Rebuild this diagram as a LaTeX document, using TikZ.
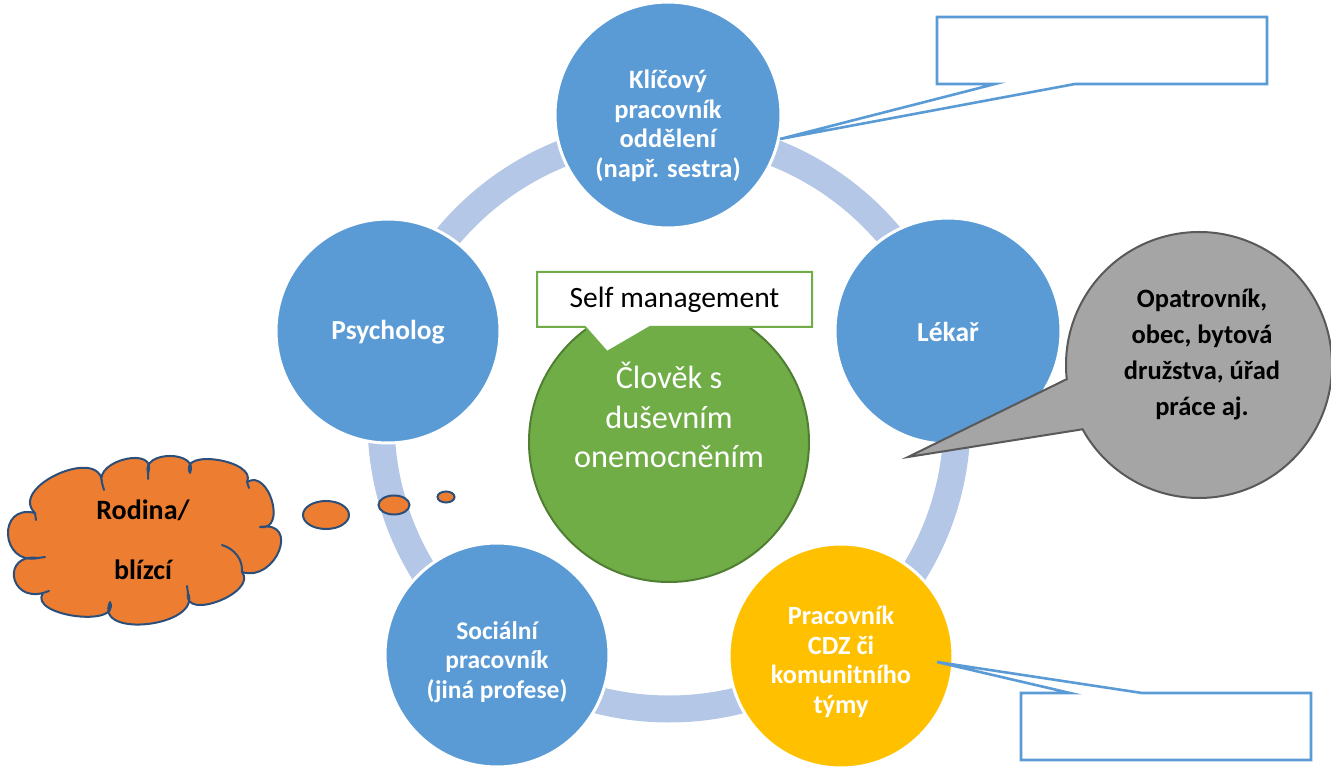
\documentclass[tikz,border=0pt]{standalone}
\usepackage{fontspec}
\setmainfont{Carlito}
\usetikzlibrary{shapes.geometric,calc}
\definecolor{roleblue}{HTML}{5B9BD5}
\definecolor{ringblue}{HTML}{B4C7E7}
\definecolor{clientgreen}{HTML}{70AD47}
\definecolor{clientgreendark}{HTML}{507E32}
\definecolor{cdzyellow}{HTML}{FFC000}
\definecolor{familyorange}{HTML}{ED7D31}
\definecolor{familyedge}{HTML}{2B4F7A}
\definecolor{othergray}{HTML}{A5A5A5}
\definecolor{othergrayedge}{HTML}{595959}
% one bulge of the cloud outline: from #1 through the peak #2 to #3
\newcommand\cpuff[3]{.. controls ($0.5333*(#1)-0.8667*(#3)+1.3333*(#2)$)
  and ($-0.8667*(#1)+0.5333*(#3)+1.3333*(#2)$) .. (#3)}
\begin{document}
\begin{tikzpicture}[x=1pt,y=-1pt,
  role/.style={circle,fill=#1,draw=white,line width=3pt,inner sep=0pt},
  roletext/.style={text=white,align=center,font=\fontsize{#1}{29.5}\selectfont\bfseries},
  calloutline/.style={draw=roleblue,line width=2.6pt,fill=white,line join=miter},
  puff/.style={ellipse,fill=familyorange,draw=familyedge,line width=2pt,inner sep=0pt}]
\useasboundingbox (0,0) rectangle (1331,767);

% cycle ring behind the roles
\draw[ringblue,line width=27pt] (669,421) circle[radius=288];

% roles around the ring
\node[role=roleblue,minimum size=226pt] (klic) at (668,115) {};
\node[roletext=26.5] (klictext) at (668,126) {Klíčový\\pracovník\\oddělení\\(např. sestra)};
\node[role=roleblue,minimum size=226pt] (lekar) at (948,331) {};
\node[roletext=27.5] (lekartext) at (948,332) {Lékař};
\node[role=cdzyellow,minimum size=224pt] (cdz) at (841,656) {};
\node[roletext=26.3] (cdztext) at (841,662) {Pracovník\\CDZ či\\komunitního\\týmy};
\node[role=roleblue,minimum size=224pt] (soc) at (497,655) {};
\node[roletext=25.5] (soctext) at (497,662) {Sociální\\pracovník\\(jiná profese)};
\node[role=roleblue,minimum size=224pt] (psy) at (388,331) {};
\node[roletext=27.5] (psytext) at (388,332) {Psycholog};

% the person in the middle
\node[circle,fill=clientgreen,draw=clientgreendark,line width=2pt,minimum size=280pt,
  inner sep=0pt] (clovek) at (669,442) {};
\node[text=white,align=center,font=\fontsize{32.3}{39.5}\selectfont] (clovektext) at (669,415)
  {Člověk s\\duševním\\onemocněním};

% self management callout
\coordinate (smtip) at (607,352);
\draw[draw=clientgreen,line width=2pt,fill=white,line join=miter]
  (585,327) -- (537,327) -- (537,272) -- (812,272) -- (812,327) -- (650,327) -- (smtip) -- cycle;
\node[font=\fontsize{29.5}{34}\selectfont] (selfm) at (674.5,300) {Self management};

% family thought cloud: joints and peaks of its bulges
\foreach \n/\p in {j1/{35,513},j2/{102,483},j3/{148,473},j4/{190,473},j5/{247,482},
    j6/{260,527},j7/{242,572},j8/{188,593},j9/{110,602},j10/{43,593},j11/{38,558},
    m1/{58,474},m2/{126,459},m3/{170,456},m4/{218,460},m5/{272,501},m6/{279,551},
    m7/{219,601},m8/{148,624},m9/{75,616},m10/{14,577},m11/{8,535}}
  {\coordinate (\n) at (\p);}
\draw[fill=familyorange,draw=familyedge,line width=2pt,line join=round]
  (j1) \cpuff{j1}{m1}{j2} \cpuff{j2}{m2}{j3} \cpuff{j3}{m3}{j4} \cpuff{j4}{m4}{j5}
  \cpuff{j5}{m5}{j6} \cpuff{j6}{m6}{j7} \cpuff{j7}{m7}{j8} \cpuff{j8}{m8}{j9}
  \cpuff{j9}{m9}{j10} \cpuff{j10}{m10}{j11} \cpuff{j11}{m11}{j1} -- cycle;
% inner strokes where the bulges meet
\draw[familyedge,line width=2pt,line cap=round]
  (j7) .. controls (243,560) and (235,549) .. (222,545)
  (j2) -- ++(2,7) (j5) -- ++(2,6) (j8) -- ++(-1,-7) (j11) -- ++(7,-1) (j1) -- ++(1,7)
  (j3) -- ++(0,6) (j10) -- ++(6,-2);
\node[align=center,font=\fontsize{28}{60}\selectfont\bfseries] (rodina) at (143,540)
  {Rodina/\\blízcí};
\node[puff,minimum width=46pt,minimum height=28pt] (puffA) at (326,515) {};
\node[puff,minimum width=31pt,minimum height=19pt] (puffB) at (394,505) {};
\node[puff,minimum width=17pt,minimum height=11pt] (puffC) at (446,497) {};

% other institutions speech bubble
\coordinate (graytip) at (908,457);
\draw[fill=othergray,draw=othergrayedge,line width=2pt,line join=miter]
  (graytip) -- ($(1199,365)+(173.9:133)$) arc[start angle=173.9,end angle=511.1,radius=133] -- cycle;
\node[align=center,font=\fontsize{26.5}{36}\selectfont\bfseries] (instituce) at (1202,354)
  {Opatrovník,\\obec, bytová\\družstva, úřad\\práce aj.};

% empty callout at the key worker
\coordinate (toptip) at (780,139);
\draw[calloutline]
  (995,84) -- (937,84) -- (937,17) -- (1267,17) -- (1267,84) -- (1075,84) -- (toptip) -- cycle;
\node (topnote) at (1102,50) {};

% empty callout at the CDZ worker
\coordinate (bottip) at (937,662);
\draw[calloutline]
  (1070,693) -- (1021,693) -- (1021,760) -- (1311,760) -- (1311,693) -- (1142,693) -- (bottip) -- cycle;
\node (botnote) at (1166,726) {};
\end{tikzpicture}
\end{document}
